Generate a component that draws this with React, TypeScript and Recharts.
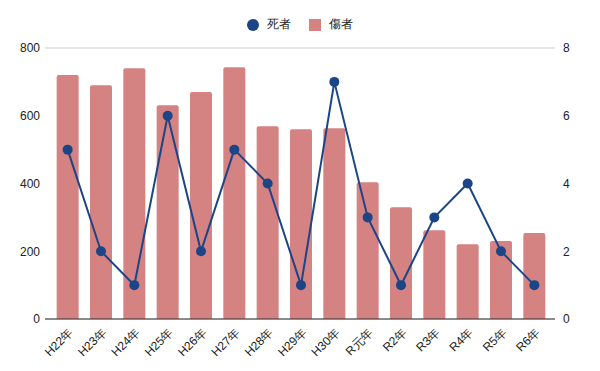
import { ComposedChart, Bar, Line, XAxis, YAxis, CartesianGrid, Legend } from "recharts";

const years = ["H22年", "H23年", "H24年", "H25年", "H26年", "H27年", "H28年", "H29年", "H30年", "R元年", "R2年", "R3年", "R4年", "R5年", "R6年"];
const injured = [720, 690, 740, 631, 670, 743, 569, 560, 563, 404, 330, 262, 221, 230, 254];
const deaths = [5, 2, 1, 6, 2, 5, 4, 1, 7, 3, 1, 3, 4, 2, 1];
const leftTicks = [0, 200, 400, 600, 800];
const rightTicks = [0, 2, 4, 6, 8];

const data = years.map((y, i) => ({ year: y, injured: injured[i], deaths: deaths[i] }));

const font = "'Liberation Sans', Arial, sans-serif";

function LegendContent() {
  return (
    <div style={{ display: "flex", justifyContent: "center", alignItems: "center", fontFamily: font, fontSize: 12, color: "#222" }}>
      <svg width={12} height={12} style={{ marginRight: 8 }}>
        <circle cx={6} cy={6} r={6} fill="#1c4587" />
      </svg>
      <span style={{ marginRight: 18 }}>死者</span>
      <svg width={12} height={12} style={{ marginRight: 8 }}>
        <rect width={12} height={12} fill="#d48282" />
      </svg>
      <span>傷者</span>
    </div>
  );
}

export default function App() {
  return (
    <div style={{ position: "absolute", left: 0, top: 0, background: "#fff" }}>
      <ComposedChart width={600} height={371} data={data} margin={{ top: 16, right: 0, left: 0, bottom: 4 }} barCategoryGap="17%">
        <Legend verticalAlign="top" height={32} content={<LegendContent />} />
        <CartesianGrid stroke="#cccccc" vertical={false} />
        <XAxis
          dataKey="year"
          interval={0}
          angle={-45}
          textAnchor="end"
          height={48}
          padding={{ left: 6, right: 4 }}
          tickLine={false}
          axisLine={{ stroke: "#333" }}
          tick={{ fontSize: 12, fill: "#222", fontFamily: font }}
        />
        <YAxis
          yAxisId="left"
          domain={[0, 800]}
          ticks={leftTicks}
          width={45}
          tickSize={3}
          tickLine={false}
          axisLine={false}
          tick={{ fontSize: 12, fill: "#222", fontFamily: font }}
        />
        <YAxis
          yAxisId="right"
          orientation="right"
          domain={[0, 8]}
          ticks={rightTicks}
          width={45}
          tickLine={false}
          axisLine={false}
          tick={{ fontSize: 12, fill: "#222", fontFamily: font, textAnchor: "start" }}
        />
        <Bar yAxisId="left" dataKey="injured" name="傷者" fill="#d48282" radius={[2, 2, 0, 0]} isAnimationActive={false} />
        <Line
          yAxisId="right"
          dataKey="deaths"
          name="死者"
          type="linear"
          stroke="#1c4587"
          strokeWidth={2}
          dot={{ r: 5, fill: "#1c4587", stroke: "#1c4587", strokeWidth: 0 }}
          isAnimationActive={false}
        />
      </ComposedChart>
    </div>
  );
}
